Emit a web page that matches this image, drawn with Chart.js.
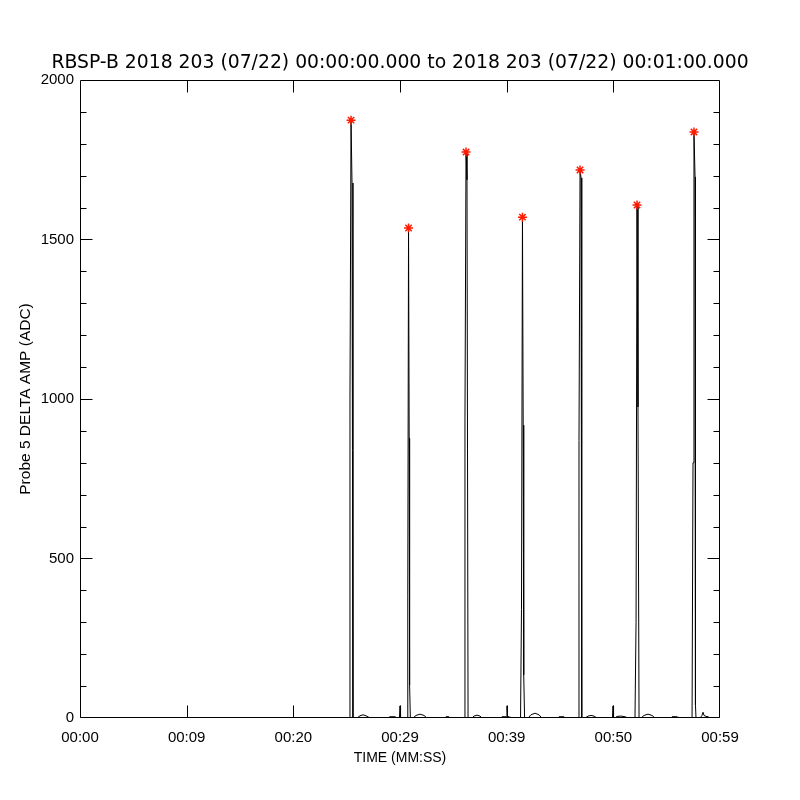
<!DOCTYPE html>
<html>
<head>
<meta charset="utf-8">
<title>RBSP-B Probe 5 delta amp</title>
<script src="https://cdn.jsdelivr.net/npm/chart.js@4.4.0/dist/chart.umd.min.js"></script>
<style>
  body { margin: 0; background: #fff; }
  canvas { display: block; }
</style>
</head>
<body>
<canvas id="chart" width="800" height="800"></canvas>
<script>
// trace: seconds since 00:00:00 and amplitude (ADC)
let traceTime = [
  0, 25.22, 25.31, 25.41, 25.50, 25.59,
  25.97, 26.25, 26.53, 26.81, 27.19,
  28.88, 29.06, 29.53, 29.72, 29.95, 30.00, 30.05,
  30.66, 30.73, 30.80, 30.86, 30.90, 30.97,
  31.22, 31.50, 31.88, 32.25, 32.53,
  34.22, 34.31, 34.59, 34.69,
  36.00, 36.09, 36.19, 36.28, 36.38,
  36.75, 36.94, 37.22, 37.50, 37.69,
  39.47, 39.56, 39.98, 40.03, 40.08, 40.22, 40.31,
  41.30, 41.39, 41.48, 41.55, 41.60, 41.68,
  42.00, 42.28, 42.66, 43.03, 43.31,
  44.81, 44.91, 45.38, 45.47,
  46.69, 46.78, 46.88, 46.97, 47.02, 47.06,
  47.34, 47.63, 47.91, 48.19, 48.47,
  49.92, 49.97, 50.02, 50.16, 50.34, 50.72, 51.09, 51.38,
  52.03, 52.13, 52.22, 52.31, 52.41,
  52.59, 52.88, 53.25, 53.63, 53.91,
  55.41, 55.50, 55.97, 56.06,
  57.38, 57.47, 57.56, 57.66, 57.70, 57.75,
  58.13, 58.31, 58.41, 58.50, 58.69, 58.88, 59.06, 60
];
let traceAmp = [
  0, 0, 1006, 1874, 1677, 0,
  0, 7, 10, 7, 0,
  0, 4, 4, 0, 0, 38, 0,
  0, 385, 1536, 877, 103, 0,
  0, 8, 12, 8, 0,
  0, 4, 4, 0,
  0, 934, 1774, 1687, 0,
  0, 6, 9, 6, 0,
  0, 4, 4, 38, 4, 4, 0,
  0, 340, 1570, 918, 135, 0,
  0, 10, 15, 10, 0,
  0, 4, 4, 0,
  0, 870, 1718, 1693, 20, 0,
  0, 6, 8, 6, 0,
  0, 38, 0, 0, 5, 6, 4, 0,
  0, 300, 1608, 975, 0,
  0, 8, 12, 8, 0,
  0, 4, 4, 0,
  0, 800, 1837, 1696, 40, 0,
  0, 8, 18, 8, 5, 4, 0, 0
];
// red asterisks on the peaks
let peakTime = [25.41, 30.80, 36.19, 41.48, 46.88, 52.22, 57.56];
let peakAmp = [1874, 1536, 1774, 1570, 1718, 1608, 1837];

let xTickLabels = ["00:00", "00:09", "00:20", "00:29", "00:39", "00:50", "00:59"];
let titleText = "RBSP-B 2018 203 (07/22) 00:00:00.000 to 2018 203 (07/22) 00:01:00.000";

let fontFamily = "'Liberation Sans', Arial, sans-serif";
let titleFamily = "'DejaVu Sans', sans-serif";

let trace = traceTime.map((t, i) => ({ x: t, y: traceAmp[i] }));
let peaks = peakTime.map((t, i) => ({ x: t, y: peakAmp[i] }));

// box round the plot with inward ticks on all four sides
const frame = {
  id: "frame",
  afterDraw(chart) {
    const ctx = chart.ctx;
    const a = chart.chartArea;
    const xs = chart.scales.x;
    const ys = chart.scales.y;
    const L = Math.round(a.left) + 0.5;
    const R = Math.round(a.right) - 0.5;
    const T = Math.round(a.top) + 0.5;
    const B = Math.round(a.bottom) - 0.5;
    ctx.save();
    ctx.strokeStyle = "#000";
    ctx.lineWidth = 1;
    ctx.beginPath();
    ctx.rect(L, T, R - L, B - T);
    for (let v = 100; v < 2000; v += 100) {
      const y = Math.round(ys.getPixelForValue(v)) + 0.5;
      const len = v % 500 === 0 ? 12 : 6;
      ctx.moveTo(L, y); ctx.lineTo(L + len, y);
      ctx.moveTo(R, y); ctx.lineTo(R - len, y);
    }
    for (let v = 10; v < 60; v += 10) {
      const x = Math.round(xs.getPixelForValue(v)) + 0.5;
      ctx.moveTo(x, B); ctx.lineTo(x, B - 12);
      ctx.moveTo(x, T); ctx.lineTo(x, T + 12);
    }
    ctx.stroke();
    ctx.restore();
  }
};

new Chart(document.getElementById("chart"), {
  type: "scatter",
  data: {
    datasets: [
      {
        data: trace,
        showLine: true,
        borderColor: "#000",
        borderWidth: 1,
        pointRadius: 0,
        order: 2,
      },
      {
        data: peaks,
        pointStyle: "star",
        pointRadius: 4.5,
        borderColor: "#ff1a00",
        backgroundColor: "#ff1a00",
        borderWidth: 1.5,
        order: 1,
      },
    ],
  },
  options: {
    responsive: false,
    animation: false,
    events: [],
    layout: { padding: 0 },
    plugins: {
      legend: { display: false },
      tooltip: { enabled: false },
      title: {
        display: true,
        text: titleText,
        color: "#000",
        font: { family: titleFamily, size: 18.8, weight: "normal" },
        padding: { top: 51.5, bottom: 5.9 },
      },
    },
    scales: {
      x: {
        type: "linear",
        min: 0,
        max: 60,
        afterFit: (s) => { s.height = 82; },
        grid: { display: false, drawTicks: false },
        border: { display: false },
        ticks: {
          stepSize: 10,
          padding: 11,
          maxRotation: 0,
          autoSkip: false,
          color: "#000",
          font: { family: fontFamily, size: 15 },
          callback: (v, i) => xTickLabels[i],
        },
        title: {
          display: true,
          text: "TIME (MM:SS)",
          color: "#000",
          font: { family: fontFamily, size: 14 },
          padding: { top: 0, bottom: 33.6 },
        },
      },
      y: {
        min: 0,
        max: 2000,
        afterFit: (s) => { s.width = 80; },
        grid: { display: false, drawTicks: false },
        border: { display: false },
        ticks: {
          stepSize: 100,
          padding: 6,
          autoSkip: false,
          color: "#000",
          font: { family: fontFamily, size: 15 },
          callback: (v) => (v % 500 === 0 ? String(v) : ""),
        },
        title: {
          display: true,
          text: "Probe 5 DELTA AMP (ADC)",
          color: "#000",
          font: { family: fontFamily, size: 15.5 },
          padding: { top: 16.5, bottom: 0 },
        },
      },
      // empty right-hand axis, only reserves the margin
      yRight: {
        position: "right",
        afterFit: (s) => { s.width = 80; },
        grid: { display: false, drawTicks: false },
        border: { display: false },
        ticks: { display: false },
      },
    },
  },
  plugins: [frame],
});
</script>
</body>
</html>
